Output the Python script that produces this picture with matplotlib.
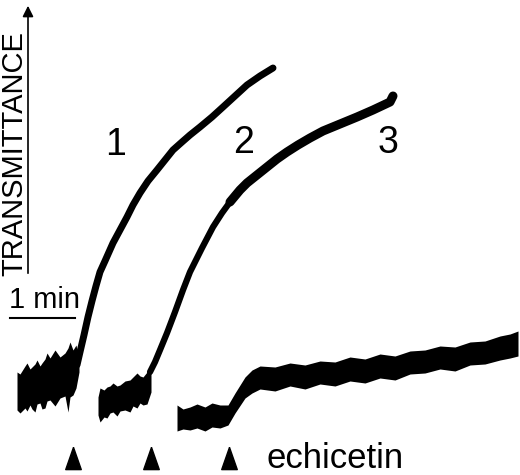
import matplotlib
matplotlib.use("Agg")
import matplotlib.pyplot as plt

plt.rcParams['font.family'] = ['Liberation Sans', 'DejaVu Sans']

# trace 1 : noisy baseline band, then the rising curve
t1_base_x = [17, 20, 25, 27, 30, 32, 35, 37, 40, 42, 45, 47, 50, 55, 60, 65, 68, 70, 73, 76, 79]
t1_base_hi = [372, 374, 366, 363, 369, 367, 364, 360, 366, 363, 359, 353, 358, 350, 357, 353, 348, 342, 350, 345, 360]
t1_base_lo = [410, 413, 408, 411, 405, 409, 412, 404, 403, 409, 408, 401, 400, 406, 398, 396, 412, 397, 395, 388, 372]
t1_x = [77, 80, 84, 88, 92, 96, 100, 105, 113, 120, 127, 133, 140, 148, 157, 165, 173,
        182, 190, 200, 212, 223, 235, 247, 260, 273]
t1_y = [365, 352, 335, 317, 301, 286, 272, 261, 243, 230, 217, 205, 193, 181, 170, 160, 150,
        142, 135, 127, 117, 107, 96, 85, 76, 68]

# trace 2
t2_base_x = [98, 100, 104, 107, 110, 113, 117, 120, 125, 130, 133, 137, 140, 143, 147, 151]
t2_base_hi = [397, 388, 390, 387, 386, 383, 386, 385, 381, 380, 377, 373, 376, 377, 372, 366]
t2_base_lo = [415, 422, 417, 418, 413, 412, 416, 411, 410, 412, 406, 408, 403, 405, 404, 392]
t2_x = [150, 155, 160, 167, 175, 183, 190, 197, 202, 213, 222, 230, 240, 247, 257,
        267, 277, 287, 298, 310, 323, 340, 357, 373, 390, 393]
t2_y = [372, 362, 350, 333, 312, 290, 272, 258, 248, 227, 213, 202, 190, 183, 175,
        167, 159, 152, 145, 138, 131, 124, 117, 110, 102, 96]

# trace 3 (only a band)
t3_x = [177, 183, 190, 197, 205, 212, 220, 228, 235, 245, 252, 260, 275, 290, 305, 320, 335, 350,
        365, 380, 395, 410, 425, 440, 455, 470, 485, 500, 510, 518]
t3_hi = [405, 409, 407, 404, 407, 403, 405, 405, 393, 377, 370, 366, 367, 363, 365, 361, 362, 357,
         359, 354, 356, 351, 350, 346, 347, 342, 341, 336, 334, 331]
t3_lo = [431, 429, 430, 428, 431, 427, 428, 425, 413, 398, 393, 389, 391, 386, 389, 384, 386, 381,
         383, 378, 380, 374, 373, 369, 371, 365, 364, 360, 358, 356]

curve_labels = ["1", "2", "3"]
label_x = [116, 244, 388]
label_y = [155, 153, 153]

echicetin_x = [73, 151, 229]

fig = plt.figure(figsize=(5.2, 4.75), dpi=100)
ax = fig.add_axes([0, 0, 1, 1])
ax.set_xlim(0, 520)
ax.set_ylim(475, 0)
ax.axis('off')

k = 'black'
ax.fill_between(t1_base_x, t1_base_hi, t1_base_lo, color=k, lw=0)
ax.plot(t1_x, t1_y, color=k, lw=5, solid_capstyle='round', solid_joinstyle='round')
ax.fill_between(t2_base_x, t2_base_hi, t2_base_lo, color=k, lw=0)
ax.plot(t2_x[:12], t2_y[:12], color=k, lw=4.5, solid_capstyle='round', solid_joinstyle='round')
ax.plot(t2_x[11:], t2_y[11:], color=k, lw=6.5, solid_capstyle='round', solid_joinstyle='round')
ax.fill_between(t3_x, t3_hi, t3_lo, color=k, lw=0)

for lab, x, y in zip(curve_labels, label_x, label_y):
    ax.text(x, y, lab, fontsize=27, ha='center', va='baseline')

# y axis arrow + label
ax.annotate('', xy=(28, 3), xytext=(28, 276),
            arrowprops=dict(arrowstyle='-|>', lw=1.2, color=k, mutation_scale=16))
ax.text(14, 154, 'TRANSMITTANCE', fontsize=21, rotation=90, ha='center', va='center')

# time scale bar
ax.plot([10, 75], [318, 318], color=k, lw=1.5)
ax.text(9, 308, '1 min', fontsize=21, ha='left', va='baseline')

# echicetin additions
tri = [(0, 1), (-0.7, -1), (0.7, -1), (0, 1)]
ax.plot(echicetin_x, [458] * 3, ls='none', marker=tri, ms=16, color=k)
ax.text(267, 468, 'echicetin', fontsize=25, ha='left', va='baseline')

fig.savefig('out.png', dpi=100)
